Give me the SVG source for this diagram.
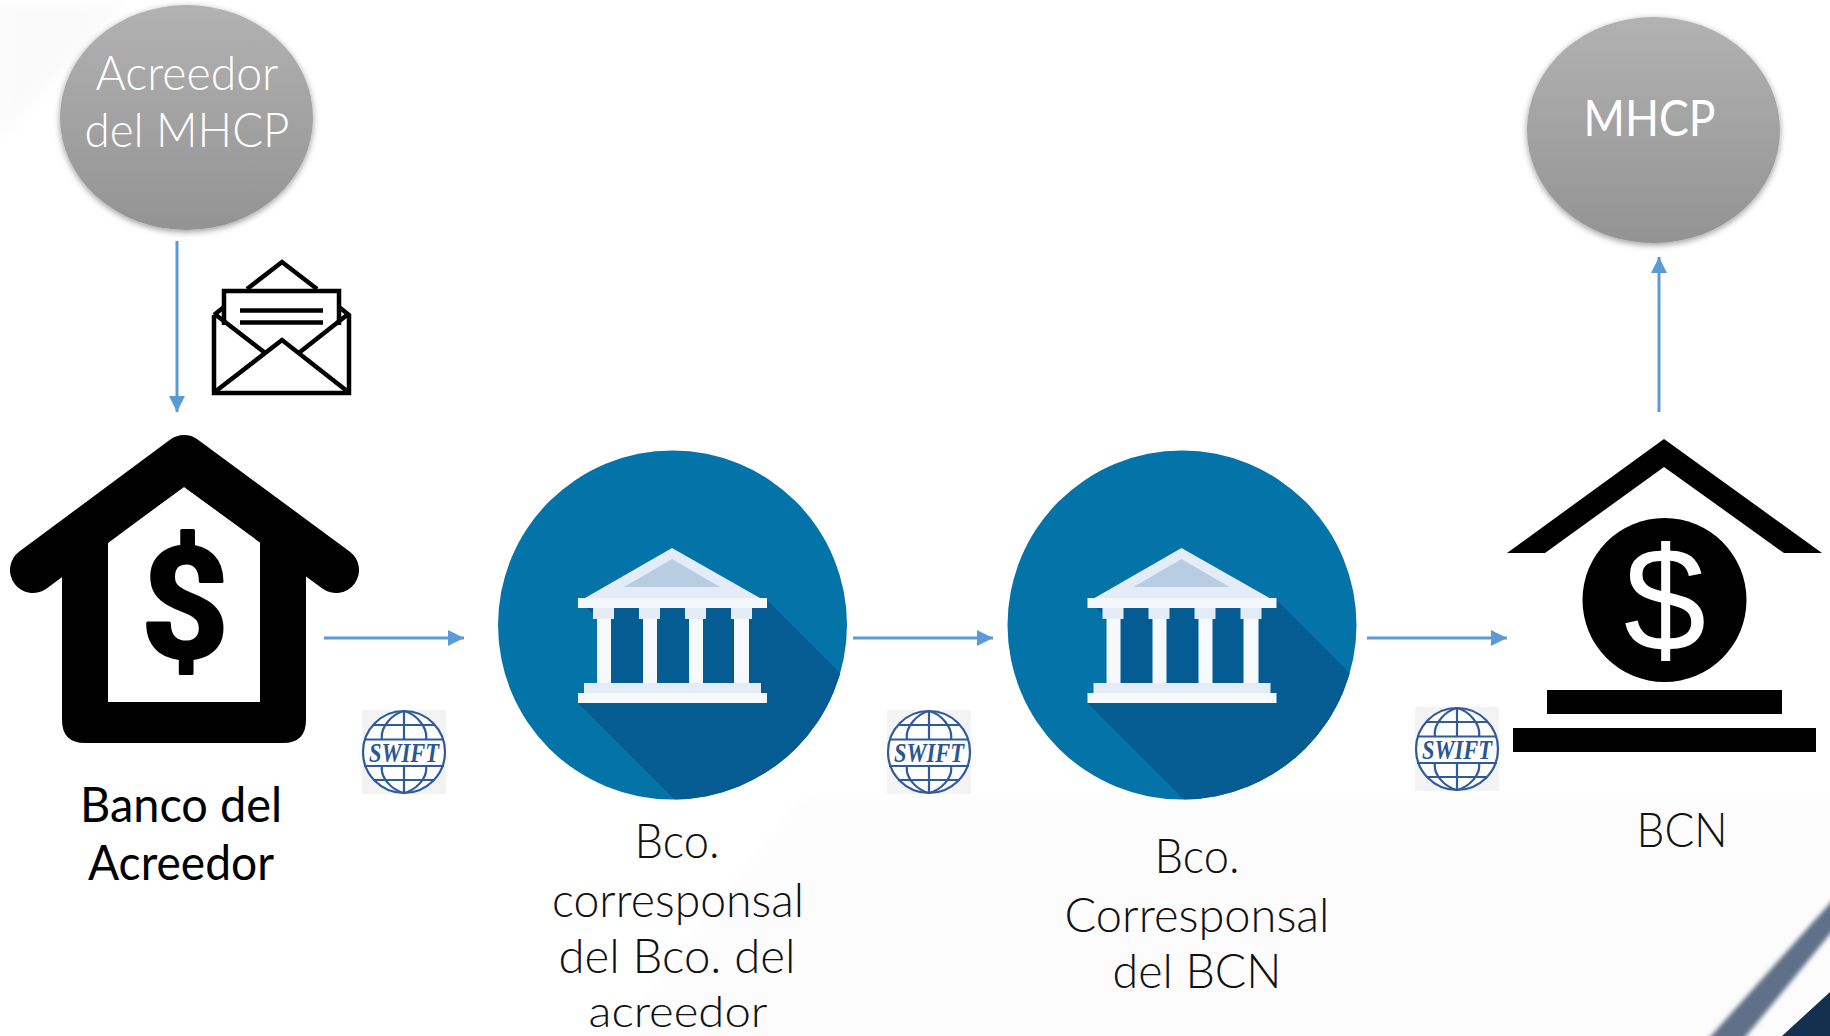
<svg xmlns="http://www.w3.org/2000/svg" width="1830" height="1036" viewBox="0 0 1830 1036">
<style>
text{font-family:"Lato","Liberation Sans",sans-serif;font-weight:300;font-size:47px;text-anchor:middle;fill:#111}
.w{fill:#fff}
.b{font-weight:400;font-size:49px;fill:#000}
.sw{font-family:"Liberation Serif",serif;font-style:italic;font-weight:700;font-size:27px;fill:#2a5597}
.conn{fill:none;stroke:#5b9bd5;stroke-width:3;marker-end:url(#ah)}
.gl{fill:none;stroke:#2f5a9e;stroke-width:2.2}
.env{fill:none;stroke:#000;stroke-width:4.500;stroke-linejoin:miter}
</style>
<defs>
<linearGradient id="grey" x1="0" y1="0" x2="0" y2="1"><stop offset="0" stop-color="#b2b2b2"/><stop offset="1" stop-color="#939393"/></linearGradient>
<filter id="sh" x="-10%" y="-10%" width="120%" height="125%"><feDropShadow dx="0" dy="2" stdDeviation="3" flood-color="#000" flood-opacity=".4"/></filter>
<filter id="bl" x="-20%" y="-20%" width="140%" height="140%"><feGaussianBlur stdDeviation="2"/></filter>
<filter id="bl2" x="-30%" y="-30%" width="160%" height="160%"><feGaussianBlur stdDeviation="8"/></filter>
<marker id="ah" markerUnits="userSpaceOnUse" markerWidth="16" markerHeight="16" refX="16" refY="8" orient="auto"><path d="M0,0L16,8L0,16Z" fill="#5b9bd5"/></marker>
<clipPath id="c1"><circle cx="672.5" cy="625" r="174.500"/></clipPath>
<clipPath id="c2"><circle cx="1182" cy="625" r="174.500"/></clipPath>
<g id="temple">
<path d="M767,600L1000,833L800,925L578,703L597,703L597,618L587,608L578,608Z" fill="#045c92"/>
<path d="M585,598L672,548L760,598Z" fill="#e4edf7"/>
<path d="M672,559L624,587H720Z" fill="#b9cde2"/>
<rect x="578" y="598" width="189" height="10" fill="#f4f8fc"/>
<path d="M593,608h21v11h-21zM639,608h21v11h-21zM685,608h21v11h-21zM731,608h21v11h-21z" fill="#e4edf7"/>
<path d="M597,619h14v65h-14zM643,619h14v65h-14zM689,619h14v65h-14zM734,619h15v65h-15z" fill="#f7fafd"/>
<rect x="584" y="683" width="177" height="10" fill="#e4edf7"/>
<rect x="578" y="693" width="189" height="10" fill="#f7fafd"/>
</g>
<symbol id="globe" overflow="visible">
<rect x="-42" y="-42" width="84" height="84" fill="#f3f3f3"/>
<circle r="41" fill="#fff"/>
<path class="gl" d="M0,-41V-12.5M0,14V41M-31,-27H31M-40,-12.5H40M-40,14H40M-31,28H31M-22,-12.5C-24,-25 -12,-38 0,-41C12,-38 24,-25 22,-12.5M-22,14C-24,26 -12,38 0,41C12,38 24,26 22,14"/>
<circle class="gl" r="41"/>
</symbol>
</defs>
<g id="background">
<rect width="1830" height="1036" fill="#fff"/>
<path d="M0,0H127L0,140Z" fill="#fafafa" filter="url(#bl2)"/>
<path d="M600,1060L800,800H1850V1060Z" fill="#fcfcfc" filter="url(#bl2)"/>
<path d="M1840,892V922L1738,1046H1702Z" fill="#5f7088" filter="url(#bl)"/>
<path d="M1830,992V1036H1782Z" fill="#14304f"/>
</g>
<g id="connectors">
<path class="conn" d="M177,241V412"/>
<path class="conn" d="M324,638H464"/>
<path class="conn" d="M853,638H993"/>
<path class="conn" d="M1367,638H1507"/>
<path class="conn" d="M1659,412V257"/>
</g>
<g id="acreedor-mhcp">
<ellipse cx="186.5" cy="117.5" rx="126.5" ry="112.5" fill="url(#grey)" filter="url(#sh)"/>
<text class="w" x="187" y="90" textLength="183" lengthAdjust="spacingAndGlyphs">Acreedor</text>
<text class="w" x="187" y="147" textLength="205" lengthAdjust="spacingAndGlyphs">del MHCP</text>
</g>
<g id="mhcp">
<ellipse cx="1653.500" cy="130" rx="126.500" ry="113" fill="url(#grey)" filter="url(#sh)"/>
<text class="w" x="1649.500" y="136" style="font-size:50px;font-weight:400" textLength="132" lengthAdjust="spacingAndGlyphs">MHCP</text>
</g>
<g id="envelope">
<path class="env" d="M247,289L282,262L317,289"/>
<path class="env" d="M224,325V291H339V325"/>
<path d="M240,310.500H323M240,322.500H323" class="env"/>
<path class="env" d="M214,315V393H349V315L339,307M214,315L224,307"/>
<path class="env" d="M216,315L264,352M347,315L300,352M216,391L282,340L347,391"/>
</g>
<g id="banco-acreedor">
<path d="M33,570L184,458L336,570" fill="none" stroke="#000" stroke-width="46" stroke-linecap="round" stroke-linejoin="round"/>
<path fill-rule="evenodd" d="M62,565L184,470L306,565V720Q306,743 283,743H85Q62,743 62,720ZM108,542L184,487L260,542V702H108Z" fill="#000"/>
<text x="185" y="657" style="font-family:'Roboto',sans-serif;font-weight:700;font-size:154px;fill:#000;stroke:#000;stroke-width:3;stroke-linejoin:round">$</text>
<text class="b" x="181" y="822" textLength="202" lengthAdjust="spacingAndGlyphs">Banco del</text>
<text class="b" x="181" y="880" textLength="186" lengthAdjust="spacingAndGlyphs">Acreedor</text>
</g>
<g id="banco-corresponsal-1">
<circle cx="672.5" cy="625" r="174.500" fill="#0473a8"/>
<g clip-path="url(#c1)"><use href="#temple"/></g>
<text x="677" y="858" textLength="85" lengthAdjust="spacingAndGlyphs">Bco.</text>
<text x="678" y="917" textLength="252" lengthAdjust="spacingAndGlyphs">corresponsal</text>
<text x="677" y="973" textLength="237" lengthAdjust="spacingAndGlyphs">del Bco. del</text>
<text x="678" y="1027" style="font-size:42.500px" textLength="179" lengthAdjust="spacingAndGlyphs">acreedor</text>
</g>
<g id="banco-corresponsal-2">
<circle cx="1182" cy="625" r="174.500" fill="#0473a8"/>
<g clip-path="url(#c2)"><use href="#temple" x="509.500"/></g>
<text x="1197" y="873" textLength="85" lengthAdjust="spacingAndGlyphs">Bco.</text>
<text x="1197" y="932" textLength="265" lengthAdjust="spacingAndGlyphs">Corresponsal</text>
<text x="1197" y="988" textLength="169" lengthAdjust="spacingAndGlyphs">del BCN</text>
</g>
<g id="bcn">
<path d="M1507,553L1664,439L1822,553H1784L1664,467L1545,553Z" fill="#000"/>
<circle cx="1664.500" cy="600" r="82" fill="#000"/>
<text x="1665" y="651" style="font-family:'Liberation Sans',sans-serif;font-weight:400;font-size:148px;fill:#fff">$</text>
<rect x="1547" y="690" width="235" height="24" fill="#000"/>
<rect x="1513" y="728" width="303" height="24" fill="#000"/>
<text x="1682" y="847" textLength="91" lengthAdjust="spacingAndGlyphs">BCN</text>
</g>
<g id="swift-1"><use href="#globe" x="404" y="752"/><text class="sw" x="404" y="762" textLength="70" lengthAdjust="spacingAndGlyphs">SWIFT</text></g>
<g id="swift-2"><use href="#globe" x="929" y="752"/><text class="sw" x="929" y="762" textLength="70" lengthAdjust="spacingAndGlyphs">SWIFT</text></g>
<g id="swift-3"><use href="#globe" x="1457" y="749"/><text class="sw" x="1457" y="759" textLength="70" lengthAdjust="spacingAndGlyphs">SWIFT</text></g>
</svg>
